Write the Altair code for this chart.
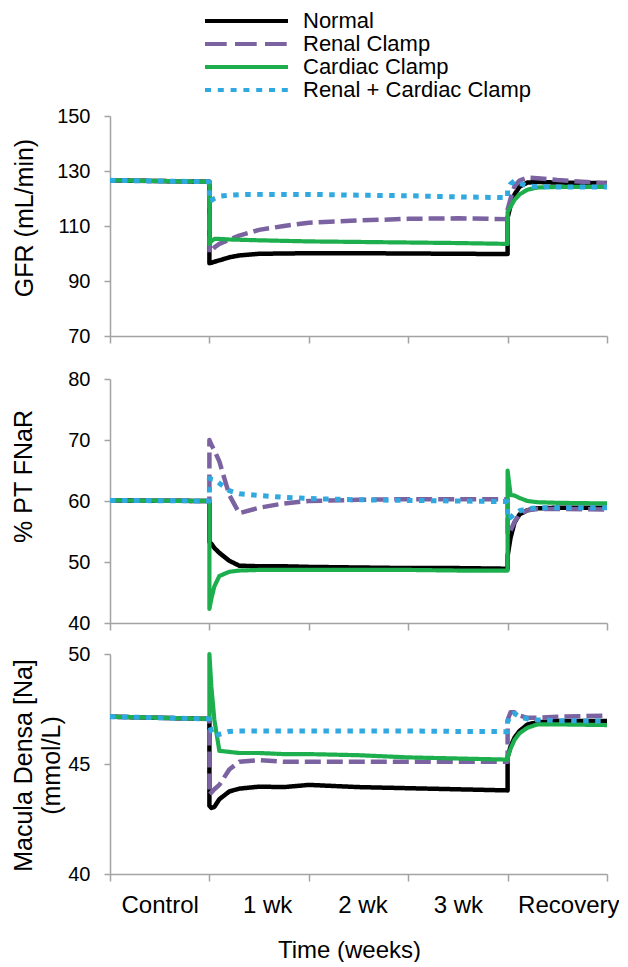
import altair as alt
import pandas as pd

# ---------------- data ----------------
series_names = ["Normal", "Renal Clamp", "Cardiac Clamp", "Renal + Cardiac Clamp"]
x_labels = ["Control", "1 wk", "2 wk", "3 wk", "Recovery"]

time_weeks = [0, 1, 1, 1.02, 1.05, 1.1, 1.2, 1.3, 1.5, 1.75, 2, 2.5, 3, 3.5,
              4, 4, 4.03, 4.07, 4.12, 4.2, 4.3, 4.5, 5]

gfr_normal = [126.6, 126.1, 96.5, 96.6, 97.0, 97.5, 98.6, 99.3, 99.9, 100.0, 100.1, 100.1,
              100.0, 99.9, 99.8, 113.0, 117.5, 121.5, 124.3, 125.8, 126.0, 125.8, 125.6]
gfr_renal = [126.6, 126.1, 100.3, 101.0, 102.2, 103.5, 105.0, 106.5, 108.6, 110.0, 111.2, 112.0,
             112.6, 112.8, 112.5, 116.0, 120.0, 124.5, 126.5, 127.6, 127.4, 126.7, 125.5]
gfr_cardiac = [126.6, 126.1, 103.5, 104.5, 105.3, 105.3, 105.1, 105.0, 104.8, 104.6, 104.4, 104.2,
               104.0, 103.8, 103.5, 115.0, 117.0, 119.5, 121.5, 123.2, 124.0, 124.2, 124.2]
gfr_both = [126.6, 126.1, 119.0, 119.3, 120.0, 120.8, 121.2, 121.4, 121.5, 121.5, 121.5, 121.2,
            121.0, 120.6, 120.3, 123.0, 125.3, 126.4, 125.5, 124.6, 124.3, 124.2, 124.2]

fnar_normal = [60.1, 60.0, 53.3, 53.0, 52.3, 51.5, 50.2, 49.4, 49.3, 49.3, 49.2, 49.1,
               49.0, 49.0, 48.9, 51.0, 54.0, 56.5, 57.8, 58.5, 58.8, 58.9, 58.9]
fnar_renal = [60.1, 60.0, 70.0, 69.2, 68.3, 66.5, 61.0, 58.0, 58.9, 59.6, 60.0, 60.2,
              60.3, 60.3, 60.3, 54.5, 55.2, 56.6, 57.8, 58.5, 58.7, 58.7, 58.6]
fnar_cardiac = [60.1, 60.0, 42.3, 44.0, 46.0, 47.7, 48.4, 48.6, 48.7, 48.7, 48.7, 48.7,
                48.7, 48.6, 48.6, 65.0, 61.0, 60.9, 60.5, 60.0, 59.8, 59.7, 59.6]
fnar_both = [60.1, 60.0, 63.7, 63.6, 63.5, 62.9, 61.7, 61.2, 60.9, 60.6, 60.4, 60.2,
             60.1, 60.0, 59.9, 57.0, 57.3, 57.9, 58.4, 58.7, 58.9, 58.9, 58.9]

md_normal = [47.15, 47.05, 43.1, 43.0, 43.05, 43.4, 43.75, 43.88, 43.97, 43.95, 44.05, 43.95,
             43.9, 43.85, 43.8, 45.3, 45.8, 46.2, 46.5, 46.8, 46.9, 46.95, 46.95]
md_renal = [47.15, 47.05, 43.6, 43.7, 43.85, 44.05, 44.75, 45.1, 45.18, 45.1, 45.1, 45.1,
            45.1, 45.1, 45.1, 47.0, 47.35, 47.35, 47.2, 47.1, 47.1, 47.15, 47.2]
md_cardiac = [47.15, 47.05, 50.0, 48.5, 47.0, 45.6, 45.55, 45.5, 45.5, 45.45, 45.45, 45.4,
              45.3, 45.25, 45.2, 45.3, 45.7, 46.1, 46.4, 46.65, 46.8, 46.8, 46.77]
md_both = [47.15, 47.05, 46.8, 46.5, 46.25, 46.35, 46.48, 46.5, 46.5, 46.5, 46.5, 46.5,
           46.5, 46.48, 46.47, 46.9, 47.25, 47.3, 47.15, 47.05, 47.0, 46.97, 46.95]

# ---------------- styles ----------------
series_colors = ["#000000", "#7B62A0", "#1DAE4E", "#30A9E1"]
line_dash = [[1, 0], [16, 6], [1, 0], [5.5, 6.5]]
legend_dash = [[1, 0], [21.7, 8.3], [1, 0], [6, 6.8]]
line_width = [4.5, 4.5, 4.2, 5.0]
GREY = "#A3A3A3"
W = 497


def long_table(key, cols):
    rows = []
    for name, vals in zip(series_names, cols):
        for i, (t, v) in enumerate(zip(time_weeks, vals)):
            rows.append({"panel": key, "series": name, "i": i, "t": t, "v": v})
    return pd.DataFrame(rows)


df_gfr = long_table("gfr", [gfr_normal, gfr_renal, gfr_cardiac, gfr_both])
df_fnar = long_table("fnar", [fnar_normal, fnar_renal, fnar_cardiac, fnar_both])
df_md = long_table("md", [md_normal, md_renal, md_cardiac, md_both])

x_plain_axis = alt.Axis(values=[0, 1, 2, 3, 4, 5], labels=False, title=None, tickSize=7,
                        tickColor=GREY, domainColor=GREY, domainWidth=1.5, tickWidth=1.5,
                        grid=False)

label_expr = " : ".join(
    f"datum.value == {k + 0.5} ? '{lab}'" for k, lab in enumerate(x_labels)) + " : ''"

x_label_axis = alt.Axis(
    values=[0, 0.5, 1, 1.5, 2, 2.5, 3, 3.5, 4, 4.5, 5],
    labelExpr=label_expr,
    tickOpacity={"condition": {"test": "datum.value % 1 !== 0", "value": 0}, "value": 1},
    labelOffset={"condition": [{"test": "datum.value == 1.5", "value": 8},
                               {"test": "datum.value == 2.5", "value": 4},
                               {"test": "datum.value == 4.5", "value": 11}],
                 "value": 0},
    labelFontSize=24, labelColor="#000000", labelPadding=12, labelOverlap=False,
    labelFlush=False, tickSize=7, tickColor=GREY, domainColor=GREY, domainWidth=1.5,
    tickWidth=1.5, grid=False, title="Time (weeks)", titleFontSize=24,
    titleFontWeight="normal", titleColor="#000000", titleX=239, titleY=64,
    titleBaseline="top")


def panel(df, domain, ticks, title, title_x, title_y, height, xaxis, rng=None, lh=None):
    scale = alt.Scale(domain=domain, nice=False, zero=False)
    if rng is not None:
        scale = alt.Scale(domain=domain, nice=False, zero=False, range=rng)
    ax_kw = dict(values=ticks, title=title, titleX=title_x, titleY=title_y,
                 titleBaseline="middle", titleAlign="center", titleAngle=270,
                 titleFontSize=25, titleFontWeight="normal", titleColor="#000000",
                 labelFontSize=20, labelColor="#000000", labelPadding=14, tickSize=6,
                 tickColor=GREY, domainColor=GREY, domainWidth=1.5, tickWidth=1.5,
                 grid=False)
    if lh is not None:
        ax_kw["titleLineHeight"] = lh
    yenc = alt.Y("v:Q", scale=scale, axis=alt.Axis(**ax_kw))
    xenc = alt.X("t:Q", scale=alt.Scale(domain=[0, 5], nice=False, zero=False), axis=xaxis)
    layers = []
    for name, col, dash, wd in zip(series_names, series_colors, line_dash, line_width):
        layers.append(
            alt.Chart(df).transform_filter(alt.datum.series == name)
            .mark_line(color=col, strokeDash=dash, strokeWidth=wd, strokeCap="butt",
                       strokeJoin="round")
            .encode(x=xenc, y=yenc, order="i:Q")
        )
    return alt.layer(*layers).properties(width=W, height=height)


p1 = panel(df_gfr, [70, 150], [70, 90, 110, 130, 150], "GFR (mL/min)", -86, 101.5,
           220, x_plain_axis)
p2 = panel(df_fnar, [40, 80], [40, 50, 60, 70, 80], "% PT FNaR", -87, 109,
           256, x_plain_axis, rng=[256, 12])
p3 = panel(df_md, [40, 50], [40, 45, 50], ["Macula Densa [Na]", "(mmol/L)"], -86.5, 111,
           220, x_label_axis, lh=28)

# ---------------- legend ----------------
legend_df = pd.DataFrame({"series": series_names, "idx": list(range(len(series_names)))})
yleg = alt.Y("idx:Q", scale=alt.Scale(domain=[0, 3], range=[13, 82]), axis=None)
leg_rules = alt.Chart(legend_df).mark_rule(strokeWidth=4, strokeCap="butt").encode(
    x=alt.value(95), x2=alt.value(178), y=yleg,
    color=alt.Color("series:N", scale=alt.Scale(domain=series_names, range=series_colors),
                    legend=None),
    strokeDash=alt.StrokeDash("series:N",
                              scale=alt.Scale(domain=series_names, range=legend_dash),
                              legend=None),
)
leg_text = alt.Chart(legend_df).mark_text(align="left", baseline="middle", fontSize=22,
                                          color="#000000").encode(
    x=alt.value(193), y=yleg, text="series:N")
legend = alt.layer(leg_rules, leg_text).properties(width=W, height=77)

chart = alt.vconcat(legend, p1, p2, p3, spacing=31, bounds="flush",
                    padding={"left": 3, "top": 0, "right": 0, "bottom": 0}) \
    .configure(font="Liberation Sans") \
    .configure_view(stroke=None)

chart.save("out.html", embed_options={"renderer": "svg", "actions": False})
